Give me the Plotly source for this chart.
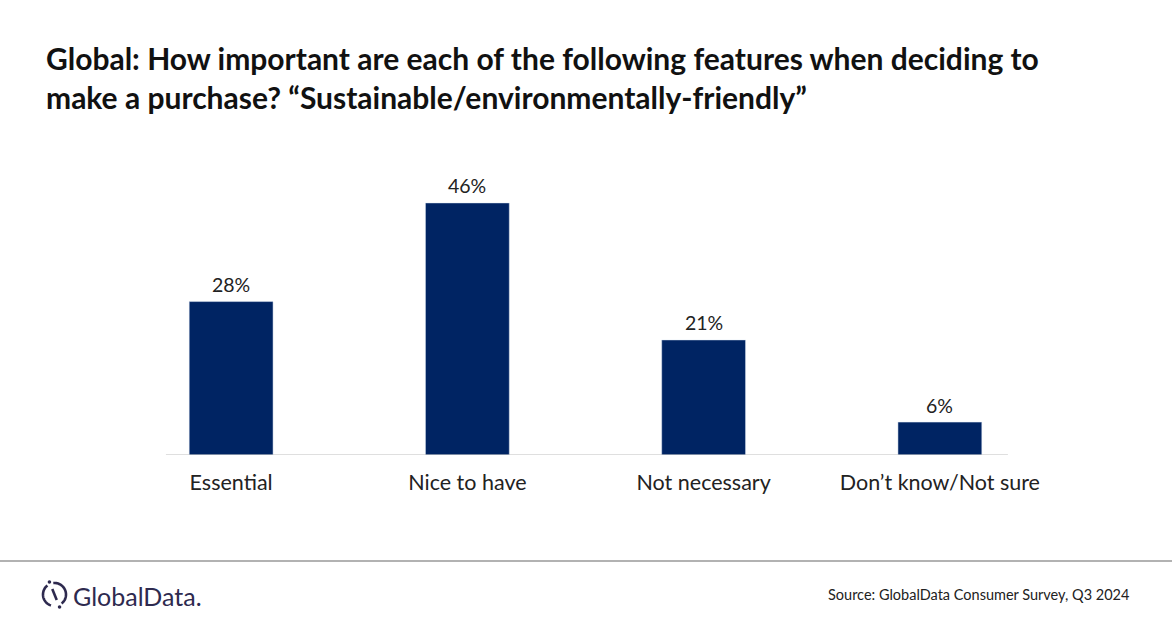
import math
import plotly.graph_objects as go

categories = ["Essential", "Nice to have", "Not necessary", "Don\u2019t know/Not sure"]
values = [28, 46, 21, 6]
labels = [f"{v}%" for v in values]
title_lines = [
    "Global: How important are each of the following features when deciding to",
    "make a purchase? \u201cSustainable/environmentally-friendly\u201d",
]

W, H = 1172, 628
L, R, T, B = 113, 114, 150, 173
pw, ph = W - L - R, H - T - B

def px(x):
    return (x - L) / pw

def py(y):
    return (H - B - y) / ph

LOGO = "#2e2a4f"

def arc_path(cx, cy, r, a0, a1, n=30):
    pts = []
    for i in range(n + 1):
        a = math.radians(a0 + (a1 - a0) * i / n)
        x = cx + r * math.cos(a)
        y = cy - r * math.sin(a)
        pts.append(f"{px(x):.5f},{py(y):.5f}")
    return "M " + " L ".join(pts)

cx, cy, r = 54.5, 594.5, 11.5
ta, ba = math.radians(112), math.radians(292)
sx0, sy0 = cx + (r + 2) * math.cos(ta), cy - (r + 2) * math.sin(ta)
sx1, sy1 = cx + (r + 2) * math.cos(ba), cy - (r + 2) * math.sin(ba)

fig = go.Figure(go.Bar(
    x=categories, y=values,
    marker_color="#002463", width=0.355,
    cliponaxis=False, hoverinfo="skip",
))

for c, v, t in zip(categories, values, labels):
    fig.add_annotation(x=c, y=v, text=t, showarrow=False, yanchor="middle", yshift=17,
                       font=dict(family="Lato", size=19.5, color="#222222"))

shapes = [
    dict(type="line", xref="x", yref="y", x0=-0.276, x1=3.288, y0=0, y1=0,
         line=dict(color="#bfbfbf", width=1.2)),
    dict(type="line", xref="paper", yref="paper", x0=px(0), x1=px(W), y0=py(561), y1=py(561),
         line=dict(color="#999999", width=1.5)),
    dict(type="path", xref="paper", yref="paper", path=arc_path(cx, cy, r, 128, 252),
         line=dict(color=LOGO, width=2.6)),
    dict(type="path", xref="paper", yref="paper", path=arc_path(cx, cy, r, -52, 96),
         line=dict(color=LOGO, width=2.6)),
    dict(type="line", xref="paper", yref="paper",
         x0=px(cx + 6 * math.cos(ta)), y0=py(cy - 6 * math.sin(ta)),
         x1=px(cx + 6 * math.cos(ba)), y1=py(cy - 6 * math.sin(ba)),
         line=dict(color=LOGO, width=2.6)),
    dict(type="circle", xref="paper", yref="paper",
         x0=px(sx0 - 1.8), x1=px(sx0 + 1.8), y0=py(sy0 + 1.8), y1=py(sy0 - 1.8),
         fillcolor=LOGO, line=dict(width=0)),
    dict(type="circle", xref="paper", yref="paper",
         x0=px(sx1 - 1.8), x1=px(sx1 + 1.8), y0=py(sy1 + 1.8), y1=py(sy1 - 1.8),
         fillcolor=LOGO, line=dict(width=0)),
]

fig.update_layout(
    width=W, height=H,
    margin=dict(l=L, r=R, t=T, b=B),
    plot_bgcolor="white", paper_bgcolor="white",
    showlegend=False,
    xaxis=dict(showline=False, showgrid=False, ticks="", range=[-0.5, 3.5],
               ticklabelstandoff=12, fixedrange=True,
               tickfont=dict(family="Lato", size=21.5, color="#222222")),
    yaxis=dict(visible=False, range=[0, 55.66], fixedrange=True),
    shapes=shapes,
)

for line, yc in zip(title_lines, [58, 97]):
    fig.add_annotation(
        text=line, xref="paper", yref="paper", x=px(44), y=py(yc),
        xanchor="left", yanchor="middle", showarrow=False,
        font=dict(family="Lato", size=30, color="#111111", weight="bold"))
fig.add_annotation(
    text="GlobalData.", xref="paper", yref="paper", x=px(71), y=py(596),
    xanchor="left", yanchor="middle", showarrow=False,
    font=dict(family="Lato", size=25, color=LOGO))
fig.add_annotation(
    text="Source: GlobalData Consumer Survey, Q3 2024", xref="paper", yref="paper",
    x=px(1131), y=py(594), xanchor="right", yanchor="middle", showarrow=False,
    font=dict(family="Lato", size=14.5, color="#222222"))

fig.write_html("out.html", config={"displayModeBar": False},
               post_script="document.body.style.margin='0';")
